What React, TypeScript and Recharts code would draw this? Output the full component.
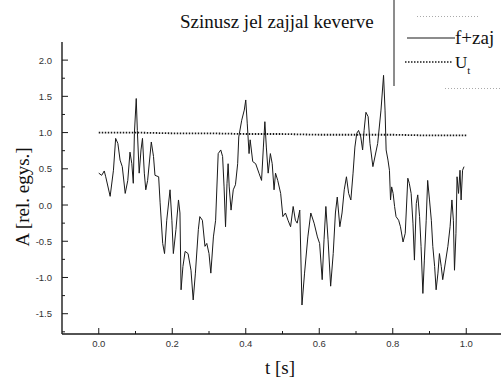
import React from "react";
import { LineChart, Line, XAxis, YAxis } from "recharts";

// f + zaj: noisy sine, sampled irregularly
const SIGNAL_T = [
  0, 0.008, 0.015, 0.019, 0.031, 0.04, 0.046, 0.052, 0.058, 0.064, 0.072, 0.079,
  0.085, 0.09, 0.094, 0.097, 0.102, 0.105, 0.11, 0.115, 0.119, 0.124, 0.128, 0.133,
  0.143, 0.149, 0.153, 0.163, 0.167, 0.174, 0.179, 0.185, 0.194, 0.199, 0.203, 0.21,
  0.217, 0.221, 0.224, 0.229, 0.235, 0.243, 0.251, 0.257, 0.263, 0.271, 0.275, 0.282,
  0.289, 0.294, 0.3, 0.305, 0.312, 0.318, 0.325, 0.332, 0.337, 0.341, 0.345, 0.349,
  0.352, 0.355, 0.36, 0.366, 0.372, 0.378, 0.381, 0.389, 0.396, 0.4, 0.404, 0.409,
  0.412, 0.419, 0.427, 0.436, 0.443, 0.448, 0.452, 0.456, 0.461, 0.467, 0.472, 0.477,
  0.481, 0.487, 0.495, 0.501, 0.508, 0.515, 0.522, 0.529, 0.535, 0.54, 0.547, 0.553,
  0.56, 0.569, 0.577, 0.586, 0.595, 0.601, 0.608, 0.613, 0.618, 0.624, 0.631, 0.638,
  0.644, 0.649, 0.656, 0.662, 0.668, 0.674, 0.68, 0.686, 0.692, 0.697, 0.702, 0.707,
  0.713, 0.718, 0.722, 0.727, 0.733, 0.738, 0.746, 0.759, 0.768, 0.775, 0.779, 0.782,
  0.787, 0.791, 0.794, 0.797, 0.801, 0.805, 0.809, 0.816, 0.821, 0.828, 0.834, 0.841,
  0.845, 0.85, 0.855, 0.859, 0.864, 0.868, 0.873, 0.877, 0.882, 0.886, 0.891, 0.895,
  0.9, 0.905, 0.909, 0.914, 0.918, 0.923, 0.927, 0.932, 0.936, 0.943, 0.95, 0.956,
  0.961, 0.965, 0.968, 0.972, 0.975, 0.979, 0.983, 0.986, 0.99, 0.994,
];
const SIGNAL_A = [
  0.44, 0.41, 0.47, 0.39, 0.12, 0.48, 0.92, 0.85, 0.62, 0.53, 0.16, 0.34,
  0.73, 0.57, 0.3, 0.99, 1.47, 1.03, 0.44, 0.76, 0.92, 0.44, 0.21, 0.34,
  0.87, 0.67, 0.41, 0.39, 0.03, -0.53, -0.67, -0.21, 0.21, -0.21, -0.67, -0.34,
  0.07, -0.11, -1.17, -0.85, -0.64, -0.67, -0.9, -1.31, -0.94, -0.34, -0.16, -0.21,
  -0.57, -0.53, -0.67, -0.94, -0.44, -0.21, 0.71, 0.76, 0.67, 0.25, -0.3, 0.3,
  0.57, 0.25, -0.07, 0.21, 0.28, 0.57, 0.94, 1.17, 1.31, 1.45, 1.13, 0.71,
  0.9, 0.6, 0.57, 0.44, 0.34, 0.8, 1.15, 0.8, 0.44, 0.71, 0.57, 0.21,
  0.44, 0.34, 0.16, -0.16, -0.11, -0.21, -0.3, -0.02, -0.21, -0.25, -0.07, -1.38,
  -0.94, -0.44, -0.11, -0.25, -0.44, -0.53, -1.03, -0.48, -0.02, -0.48, -1.12, -0.67,
  -0.11, 0.11, -0.3, -0.11, 0.21, 0.39, 0.16, 0.07, 0.44, 0.8, 0.99, 1.03,
  0.94, 0.76, 1.03, 1.28, 1.22, 0.85, 0.53, 0.85, 1.31, 1.79, 1.31, 0.76,
  0.62, 0.48, 0.07, 0.25, 0.16, -0.02, -0.16, -0.21, -0.3, -0.51, -0.39, 0.37,
  0.3, 0.16, -0.25, -0.76, 0.02, 0.14, -0.16, -0.57, -1.22, -0.76, -0.21, 0.34,
  0.07, -0.21, -0.57, -0.85, -1.17, -0.94, -0.67, -0.85, -1.03, -0.8, -0.57, -0.3,
  0.07, -0.21, -0.9, -0.39, 0.39, 0.16, 0.48, 0.07, 0.48, 0.53,
];

// U_t: threshold level
const UT_T = [0, 0.1, 0.2, 0.3, 0.4, 0.5, 0.6, 0.7, 0.8, 0.9, 1.0];
const UT_A = [1.0, 1.0, 0.99, 0.99, 0.98, 0.98, 0.97, 0.97, 0.97, 0.96, 0.96];

const X_TICKS = [0, 0.1, 0.2, 0.3, 0.4, 0.5, 0.6, 0.7, 0.8, 0.9, 1.0];
const Y_TICKS = [
  -1.75, -1.5, -1.25, -1, -0.75, -0.5, -0.25, 0, 0.25, 0.5, 0.75, 1, 1.25, 1.5,
  1.75, 2,
];

const signal = SIGNAL_T.map((t, i) => ({ t, a: SIGNAL_A[i] }));
const threshold = UT_T.map((t, i) => ({ t, a: UT_A[i] }));

const SANS = "'Liberation Sans', Arial, sans-serif";
const SERIF = "'Liberation Serif', 'Times New Roman', serif";
const INK = "#1a1a1a";

const majorY = (v: number) => Math.abs(v * 2 - Math.round(v * 2)) < 1e-6;
const majorX = (v: number) => Math.abs(v * 5 - Math.round(v * 5)) < 1e-6;

// left axis: label + inward tick
const LeftTick = ({ x, y, payload }: any) => {
  const ax = x + 10;
  const big = majorY(payload.value);
  return (
    <g>
      <line x1={ax} x2={ax + (big ? 6 : 3)} y1={y} y2={y} stroke={INK} />
      {big && (
        <text x={x} y={y + 3.5} textAnchor="end" fontSize={9.5} fontFamily={SANS} fill="#333">
          {payload.value.toFixed(1)}
        </text>
      )}
    </g>
  );
};

const RightTick = ({ x, y, payload }: any) => {
  const big = majorY(payload.value);
  return <line x1={x} x2={x - (big ? 6 : 3)} y1={y} y2={y} stroke={INK} />;
};

const BottomTick = ({ x, y, payload }: any) => {
  const ay = y - 4;
  const big = majorX(payload.value);
  return (
    <g>
      <line x1={x} x2={x} y1={ay} y2={ay - (big ? 6 : 3)} stroke={INK} />
      {big && (
        <text x={x} y={y + 9} textAnchor="middle" fontSize={9.5} fontFamily={SANS} fill="#333">
          {payload.value.toFixed(1)}
        </text>
      )}
    </g>
  );
};

const TopTick = ({ x, y, payload }: any) => {
  const big = majorX(payload.value);
  return <line x1={x} x2={x} y1={y} y2={y + (big ? 6 : 3)} stroke={INK} />;
};

const X_DOMAIN: [number, number] = [-0.1, 1.1];
const Y_DOMAIN: [number, number] = [-1.78, 2.25];

export default function App() {
  return (
    <div
      style={{
        position: "absolute",
        left: 0,
        top: 0,
        width: 501,
        height: 378,
        overflow: "hidden",
        background: "#fff",
      }}
    >
      <LineChart width={510} height={378} margin={{ top: 42, right: 7, bottom: 0, left: 0 }}>
        <XAxis
          dataKey="t"
          type="number"
          domain={X_DOMAIN}
          ticks={X_TICKS}
          interval={0}
          allowDataOverflow
          height={44}
          tickSize={0}
          tickMargin={4}
          tickLine={false}
          axisLine={{ stroke: INK, strokeWidth: 1.4 }}
          tick={BottomTick}
        />
        <XAxis
          xAxisId="top"
          orientation="top"
          dataKey="t"
          type="number"
          domain={X_DOMAIN}
          ticks={X_TICKS}
          interval={0}
          allowDataOverflow
          height={0}
          tickSize={0}
          tickMargin={0}
          tickLine={false}
          axisLine={{ stroke: INK, strokeWidth: 1 }}
          tick={TopTick}
        />
        <YAxis
          type="number"
          domain={Y_DOMAIN}
          ticks={Y_TICKS}
          interval={0}
          allowDataOverflow
          width={62}
          tickSize={0}
          tickMargin={10}
          tickLine={false}
          axisLine={{ stroke: INK, strokeWidth: 1.4 }}
          tick={LeftTick}
        />
        <YAxis
          yAxisId="right"
          orientation="right"
          type="number"
          domain={Y_DOMAIN}
          ticks={Y_TICKS}
          interval={0}
          allowDataOverflow
          width={0}
          tickSize={0}
          tickMargin={0}
          tickLine={false}
          axisLine={false}
          tick={RightTick}
        />
        <Line
          data={signal}
          dataKey="a"
          type="linear"
          stroke={INK}
          strokeWidth={1}
          dot={false}
          isAnimationActive={false}
        />
        <Line
          data={threshold}
          dataKey="a"
          type="linear"
          stroke={INK}
          strokeWidth={1.8}
          strokeDasharray="1.5 1.5"
          dot={false}
          isAnimationActive={false}
        />
      </LineChart>

      <svg
        width={501}
        height={378}
        style={{ position: "absolute", left: 0, top: 0, pointerEvents: "none" }}
      >
        <text x={180} y={28} fontSize={19} fontFamily={SERIF} fill="#111">
          Szinusz jel zajjal keverve
        </text>

        {/* legend box */}
        <rect x={394} y={0} width={110} height={88} fill="#fff" />
        <line x1={394} x2={394} y1={0} y2={86} stroke={INK} />
        <line x1={417} x2={480} y1={16.5} y2={16.5} stroke="#aaa" strokeDasharray="1 2" />
        <line x1={445} x2={501} y1={88.5} y2={88.5} stroke="#aaa" strokeDasharray="1 2" />
        <line x1={407} x2={455} y1={38} y2={38} stroke={INK} strokeWidth={1.2} />
        <text x={455} y={44} fontSize={19} fontFamily={SERIF} fill="#111">
          f+zaj
        </text>
        <line
          x1={405}
          x2={453}
          y1={62}
          y2={62}
          stroke={INK}
          strokeWidth={1.5}
          strokeDasharray="1.5 1.5"
        />
        <text x={455} y={68} fontSize={17} fontFamily={SERIF} fill="#111">
          U
          <tspan fontSize={11} dy={6}>
            t
          </tspan>
        </text>

        <text
          transform="translate(29,197) rotate(-90)"
          textAnchor="middle"
          fontSize={19}
          fontFamily={SERIF}
          fill="#111"
        >
          A [rel. egys.]
        </text>
        <text x={280} y={374} textAnchor="middle" fontSize={19} fontFamily={SERIF} fill="#111">
          t [s]
        </text>
      </svg>
    </div>
  );
}
